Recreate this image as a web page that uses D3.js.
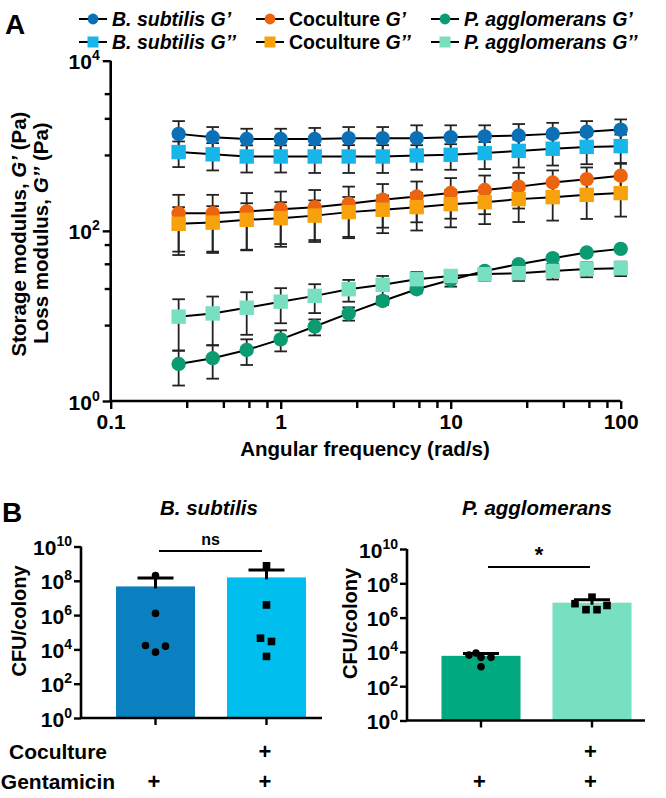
<!DOCTYPE html>
<html><head><meta charset="utf-8">
<script src="https://cdn.jsdelivr.net/npm/d3@7"></script>
<style>
body{margin:0;background:#fff}
svg{display:block}
text{font-family:"Liberation Sans",Arial,Helvetica,sans-serif;font-weight:bold;fill:#000}
</style>
</head><body>
<svg id="c" width="666" height="798"></svg>
<script>
// ---------- Panel A data ----------
const freq = [0.251,0.398,0.631,1,1.585,2.512,3.981,6.31,10,15.85,25.12,39.81,63.1,100];
const bsG1   = [1380,1260,1200,1200,1200,1230,1230,1230,1260,1290,1320,1380,1460,1550];
const bsG1Sd = [570,400,385,385,420,430,430,510,480,450,480,480,490,490];
const bsG2   = [843,794,748,748,748,748,748,769,783,820,871,923,970,990];
const bsG2Sd = [281,281,263,263,269,269,269,247,261,288,315,337,363,363];
const coG1   = [161,161,169,180,190,208,232,253,278,302,331,370,405,444];
const coG1Sd = [104,104,109,110,112,123,123,127,139,145,148,143,151,170];
const coG2   = [121,125,135,141,151,166,177,190,206,217,236,249,265,278];
const coG2Sd = [69,70,76,76,77,84,83,89,96,97,109,117,127,131];
const paG1   = [2.72,3.18,3.98,5.3,7.5,10.7,15,20.6,26.5,33.8,40.6,47.7,55.6,61.4];
const paG1Sd = [1.2,1.35,1.33,1.47,1.6,1.9,1.5,1.8,4.4,2.5,2.5,2.5,2.5,2.5];
const paG2   = [9.8,10.7,12.5,14.7,17.2,20.6,23.2,27,29.5,31,31.8,33.8,35.5,36.4];
const paG2Sd = [5.9,6.2,6.5,6.5,6.4,5.9,6.3,5.7,4.4,5,6,7,7,7];
const xMajorA = [0.1,1,10,100];
const xMinorA = [0.28,0.46,0.65,0.83,2.8,4.6,6.5,8.3,28,46,65,83];
const yMajorA = [1,100,10000];
const yMinorA = [7.8,21,41,69,780,2100,4100];
const legendNames = ["B. subtilis","Coculture","P. agglomerans"];

// ---------- Panel B data ----------
const bGroups = ["Coculture","Gentamicin"];
const bsBarMean = [4.7e7,1.58e8];
const bsBarErr  = [9.8e7,2.7e8];
const bsDotsMono = [2e8,1.26e6,1.7e4,1.55e4,6.9e3];
const bsDotsCo   = [7.5e8,3.9e6,4.5e4,2.9e4,3.9e3];
const paBarMean = [5.9e3,7.4e6];
const paBarErr  = [2.2e3,3.6e6];
const paDotsMono = [8.7e3,6.5e3,4.8e3,4.8e3,1.35e3];
const paDotsCo   = [1.55e7,6.5e6,5.1e6,2.9e6,2.9e6];
const yMajorB = [1,1e2,1e4,1e6,1e8,1e10];
const cocultureFlags = [false,true];
const gentamicinFlags = [true,true];

const svg = d3.select("#c");

// ---------- Panel A ----------
const xA = d3.scaleLog().domain([0.1,100]).range([110.7,620.7]);
const yA = d3.scaleLog().domain([1,10000]).range([401,60.7]);

svg.append("text").attr("x",5).attr("y",34).attr("font-size",28).text("A");

function supLabel(sel, base, exp, supSize, dy){
  sel.append("tspan").text(base);
  sel.append("tspan").attr("dy",dy).attr("font-size",supSize).text(exp);
}

const gA = svg.append("g");
const xAxA = gA.append("g").attr("transform","translate(0,401)")
  .call(d3.axisBottom(xA).tickValues(xMajorA).tickSize(8).tickFormat(d=>String(d)));
xAxA.select(".domain").attr("stroke","#000").attr("stroke-width",2.6).attr("d","M110.7,0H620.7");
xAxA.selectAll(".tick line").attr("stroke","#000").attr("stroke-width",2.4);
xAxA.selectAll(".tick text").attr("font-size",21).attr("font-family","Liberation Sans, Arial, sans-serif").attr("font-weight","bold").attr("fill","#000").attr("y",28).attr("dy",0);
const xAxAm = gA.append("g").attr("transform","translate(0,401)")
  .call(d3.axisBottom(xA).tickValues(xMinorA).tickSize(7).tickFormat(""));
xAxAm.select(".domain").remove();
xAxAm.selectAll(".tick line").attr("stroke","#000").attr("stroke-width",2.4);

const yAxA = gA.append("g").attr("transform","translate(110.7,0)")
  .call(d3.axisLeft(yA).tickValues(yMajorA).tickSize(8).tickFormat(""));
yAxA.select(".domain").attr("stroke","#000").attr("stroke-width",2.6).attr("d","M0,401V60.7");
yAxA.selectAll(".tick line").attr("stroke","#000").attr("stroke-width",2.4);
yAxA.selectAll(".tick").each(function(d){
  const t = d3.select(this).append("text").attr("x",-11).attr("y",8).attr("text-anchor","end").attr("font-size",21);
  supLabel(t,"10",String(Math.round(Math.log10(d))),14,-9);
});
const yAxAm = gA.append("g").attr("transform","translate(110.7,0)")
  .call(d3.axisLeft(yA).tickValues(yMinorA).tickSize(6).tickFormat(""));
yAxAm.select(".domain").remove();
yAxAm.selectAll(".tick line").attr("stroke","#000").attr("stroke-width",2.4);

svg.append("text").attr("x",365).attr("y",456).attr("text-anchor","middle").attr("font-size",20.5).text("Angular frequency (rad/s)");
const yt1 = svg.append("text").attr("transform","translate(26,234) rotate(-90)").attr("text-anchor","middle").attr("font-size",20.5);
yt1.append("tspan").text("Storage modulus, ");
yt1.append("tspan").attr("font-style","italic").text("G\u2019");
yt1.append("tspan").text(" (Pa)");
const yt2 = svg.append("text").attr("transform","translate(48,233) rotate(-90)").attr("text-anchor","middle").attr("font-size",20.5);
yt2.append("tspan").text("Loss modulus, ");
yt2.append("tspan").attr("font-style","italic").text("G\u2019\u2019");
yt2.append("tspan").text(" (Pa)");

const series = [
  {v:bsG1, sd:bsG1Sd, c:"#0B70B5", shape:"circle"},
  {v:bsG2, sd:bsG2Sd, c:"#16B6EA", shape:"square"},
  {v:coG1, sd:coG1Sd, c:"#EC6410", shape:"circle"},
  {v:coG2, sd:coG2Sd, c:"#F7A20C", shape:"square"},
  {v:paG1, sd:paG1Sd, c:"#0A9B72", shape:"circle"},
  {v:paG2, sd:paG2Sd, c:"#78E0C0", shape:"square"}
];

const plotA = svg.append("g");
const errG = plotA.append("g");
const lineG = plotA.append("g");
const markG = plotA.append("g");
const line = d3.line().x(d=>xA(d[0])).y(d=>yA(d[1]));
series.forEach(s=>{
  const pts = freq.map((f,i)=>[f,s.v[i],s.sd[i]]);
  pts.forEach(p=>{
    const lo = Math.max(p[1]-p[2], 1.05);
    const hi = p[1]+p[2];
    const x = xA(p[0]);
    const g = errG.append("g").attr("stroke","#222").attr("stroke-width",1.8);
    g.append("line").attr("x1",x).attr("x2",x).attr("y1",yA(hi)).attr("y2",yA(lo));
    g.append("line").attr("x1",x-6.3).attr("x2",x+6.3).attr("y1",yA(hi)).attr("y2",yA(hi));
    g.append("line").attr("x1",x-6.3).attr("x2",x+6.3).attr("y1",yA(lo)).attr("y2",yA(lo));
  });
  lineG.append("path").datum(pts).attr("d",line).attr("fill","none").attr("stroke","#000").attr("stroke-width",2);
  pts.forEach(p=>{
    const x = xA(p[0]), y = yA(p[1]);
    if(s.shape==="circle") markG.append("circle").attr("cx",x).attr("cy",y).attr("r",7.2).attr("fill",s.c);
    else markG.append("rect").attr("x",x-7.2).attr("y",y-7.2).attr("width",14.4).attr("height",14.4).attr("fill",s.c);
  });
});

// legend
const legCx = [93,270,445];
const legY = [19,42];
series.forEach((s,i)=>{
  const col = Math.floor(i/2), row = i%2;
  const cx = legCx[col], y0 = legY[row];
  const g = svg.append("g");
  g.append("line").attr("x1",cx-14).attr("x2",cx+14).attr("y1",y0).attr("y2",y0).attr("stroke","#000").attr("stroke-width",2);
  if(s.shape==="circle") g.append("circle").attr("cx",cx).attr("cy",y0).attr("r",5.4).attr("fill",s.c);
  else g.append("rect").attr("x",cx-5.5).attr("y",y0-5.5).attr("width",11).attr("height",11).attr("fill",s.c);
  const t = g.append("text").attr("x",cx+19).attr("y",y0+7).attr("font-size",19.5);
  t.append("tspan").attr("font-style",col===1?"normal":"italic").text(legendNames[col]+" ");
  t.append("tspan").attr("font-style","italic").text(row===0?"G\u2019":"G\u2019\u2019");
});

// ---------- Panel B ----------
svg.append("text").attr("x",2).attr("y",522).attr("font-size",28).text("B");

function barPanel(opt){
  const x = d3.scaleBand().domain([0,1]).range([opt.r0, opt.r1]).paddingInner(0.288).paddingOuter(0.144);
  const y = d3.scaleLog().domain([1,1e10]).range([opt.yBase, opt.yBase-171.5]);
  const g = svg.append("g");
  opt.means.forEach((m,i)=>{
    g.append("rect").attr("x",x(i)).attr("width",x.bandwidth()).attr("y",y(m)).attr("height",opt.yBase-y(m)).attr("fill",opt.colors[i]);
  });
  const ya = g.append("g").attr("transform",`translate(${opt.x0},0)`)
    .call(d3.axisLeft(y).tickValues(yMajorB).tickSize(7).tickFormat(""));
  ya.select(".domain").attr("stroke","#000").attr("stroke-width",2.6).attr("d",`M0,${opt.yBase}V${opt.yBase-171.5}`);
  ya.selectAll(".tick line").attr("stroke","#000").attr("stroke-width",2.4);
  ya.selectAll(".tick").each(function(d){
    const t = d3.select(this).append("text").attr("x",-9).attr("y",8).attr("text-anchor","end").attr("font-size",21);
    supLabel(t,"10",String(Math.round(Math.log10(d))),14,-9);
  });
  const xa = g.append("g").attr("transform",`translate(0,${opt.yBase})`)
    .call(d3.axisBottom(x).tickSize(7).tickFormat(""));
  xa.selectAll(".tick line").attr("stroke","#000").attr("stroke-width",2.4);
  xa.select(".domain").attr("stroke","#000").attr("stroke-width",2.6).attr("d",`M${opt.x0},0H${opt.x1}`);
  opt.means.forEach((m,i)=>{
    const cx = x(i)+x.bandwidth()/2;
    const top = y(m+opt.errs[i]);
    g.append("line").attr("x1",cx).attr("x2",cx).attr("y1",y(m)+2).attr("y2",top).attr("stroke","#000").attr("stroke-width",3);
    g.append("line").attr("x1",cx-18).attr("x2",cx+18).attr("y1",top).attr("y2",top).attr("stroke","#000").attr("stroke-width",3);
  });
  const offs = [opt.offA, opt.offB];
  [opt.dotsA, opt.dotsB].forEach((arr,i)=>{
    const cx = x(i)+x.bandwidth()/2;
    arr.forEach((v,j)=>{
      const px = cx+offs[i][j];
      if(i===0) g.append("circle").attr("cx",px).attr("cy",y(v)).attr("r",3.8).attr("fill","#000");
      else g.append("rect").attr("x",px-3.8).attr("y",y(v)-3.8).attr("width",7.6).attr("height",7.6).attr("fill","#000");
    });
  });
  g.append("text").attr("x",opt.titleX).attr("y",515).attr("text-anchor","middle").attr("font-size",20.5).attr("font-style","italic").text(opt.title);
  g.append("line").attr("x1",opt.sigX[0]).attr("x2",opt.sigX[1]).attr("y1",opt.sigY).attr("y2",opt.sigY).attr("stroke","#000").attr("stroke-width",2.2);
  g.append("text").attr("x",(opt.sigX[0]+opt.sigX[1])/2).attr("y",opt.sigY-(opt.sig==="*"?5:6)).attr("text-anchor","middle").attr("font-size",opt.sig==="*"?22:16).text(opt.sig);
  g.append("text").attr("transform",`translate(${opt.titleYx},${opt.yBase-97}) rotate(-90)`).attr("text-anchor","middle").attr("font-size",20).text("CFU/colony");
  [cocultureFlags, gentamicinFlags].forEach((flags,r)=>{
    flags.forEach((f,i)=>{
      if(f) g.append("text").attr("x",x(i)+x.bandwidth()/2-1.5).attr("y",[759,789][r]).attr("text-anchor","middle").attr("font-size",22).text("+");
    });
  });
}

barPanel({x0:81,x1:322,r0:100,r1:322,yBase:718,means:bsBarMean,errs:bsBarErr,colors:["#0A80C0","#00BFEF"],
  dotsA:bsDotsMono,dotsB:bsDotsCo,offA:[0,0,-10,10,0],offB:[0,0,-6,5,0],
  title:"B. subtilis",titleX:209,sig:"ns",sigY:551,sigX:[159,262],titleYx:26});
barPanel({x0:407,x1:645,r0:425.5,r1:647.5,yBase:720.5,means:paBarMean,errs:paBarErr,colors:["#00A97F","#76E0C0"],
  dotsA:paDotsMono,dotsB:paDotsCo,offA:[-5,-12,10,0,0],offB:[0,-17,15,-6,5],
  title:"P. agglomerans",titleX:537,sig:"*",sigY:567,sigX:[488,590],titleYx:357});

bGroups.forEach((g,i)=>{
  svg.append("text").attr("x",58).attr("y",[759,789][i]).attr("text-anchor","middle").attr("font-size",21).text(g);
});
</script>
</body></html>
